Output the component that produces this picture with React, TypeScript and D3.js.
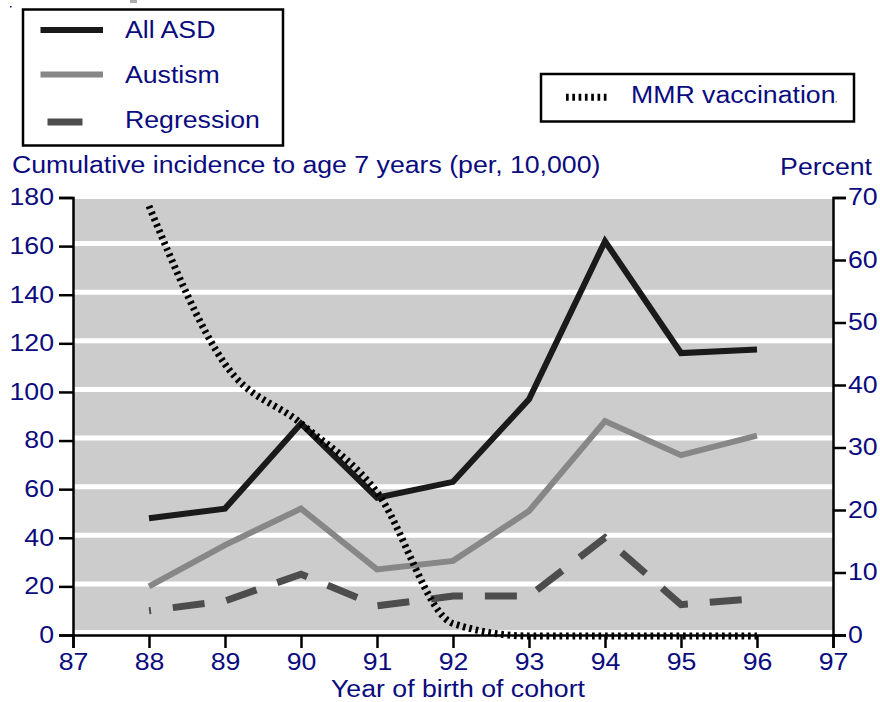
import React, { useEffect, useRef } from "react";
import * as d3 from "d3";

// ---- data ----
const years = [88, 89, 90, 91, 92, 93, 94, 95, 96];
const allASD = [48, 52, 87, 56.5, 63, 97, 162, 116, 117.5];
const autism = [20, 37, 52, 27, 30.5, 51, 88, 74, 82];
const regression = [10, 14, 25, 12, 16, 16, 40, 12.5, 15];
const mmrPercent = [68.8, 43.5, 34, 23, 2, 0, 0, 0, 0];
const xTickValues = [87, 88, 89, 90, 91, 92, 93, 94, 95, 96, 97];
const leftTickValues = [0, 20, 40, 60, 80, 100, 120, 140, 160, 180];
const rightTickValues = [0, 10, 20, 30, 40, 50, 60, 70];
const gridValues = [0, 20, 40, 60, 80, 100, 120, 140, 160];

const W = 880;
const H = 702;
const SX = 1.16;
const FONT = "'Liberation Sans', Arial, Helvetica, sans-serif";
const FS = 23;
const NAVY = "#0b0b80";

const x = d3.scaleLinear().domain([87, 97]).range([73, 833]);
const yL = d3.scaleLinear().domain([0, 180]).range([635, 197.5]);
const yR = d3.scaleLinear().domain([0, 70]).range([635, 197.5]);

type TP = { x: number; y: number; anchor?: string; children: React.ReactNode };
const T = ({ x, y, anchor = "start", children }: TP) => (
  <text
    transform={`translate(${x},${y}) scale(${SX},1)`}
    textAnchor={anchor as any}
    fontFamily={FONT}
    fontSize={FS}
    fill={NAVY}
  >
    {children}
  </text>
);

export default function App() {
  const leftRef = useRef<SVGGElement>(null);
  const rightRef = useRef<SVGGElement>(null);
  const bottomRef = useRef<SVGGElement>(null);

  useEffect(() => {
    const style = (g: d3.Selection<SVGGElement, unknown, null, undefined>) => {
      g.selectAll("path.domain").attr("stroke", "#000").attr("stroke-width", 2.5).attr("fill", "none");
      g.selectAll(".tick line").attr("stroke", "#000").attr("stroke-width", 2.5);
      g.selectAll(".tick text")
        .attr("fill", NAVY)
        .attr("font-family", FONT)
        .attr("font-size", FS)
        .each(function () {
          const el = this as SVGTextElement;
          const xv = +(el.getAttribute("x") || 0);
          el.setAttribute("x", String(xv / SX));
          el.setAttribute("transform", `scale(${SX},1)`);
        });
    };
    const left = d3.select(leftRef.current!);
    left.selectAll("*").remove();
    left.call(d3.axisLeft(yL).tickValues(leftTickValues).tickSize(14).tickPadding(5).tickFormat(d3.format("d")) as any);
    left.attr("font-family", null).attr("font-size", null);
    style(left as any);

    const right = d3.select(rightRef.current!);
    right.selectAll("*").remove();
    right.call(d3.axisRight(yR).tickValues(rightTickValues).tickSize(13).tickPadding(2).tickFormat(d3.format("d")) as any);
    right.attr("font-family", null).attr("font-size", null);
    style(right as any);

    const bottom = d3.select(bottomRef.current!);
    bottom.selectAll("*").remove();
    bottom.call(d3.axisBottom(x).tickValues(xTickValues).tickSize(13).tickPadding(5.5).tickFormat(d3.format("d")) as any);
    bottom.attr("font-family", null).attr("font-size", null);
    style(bottom as any);
  }, []);

  const lineL = d3
    .line<number>()
    .x((_, i) => x(years[i]))
    .y((d) => yL(d));
  const lineR = d3
    .line<number>()
    .x((_, i) => x(years[i]))
    .y((d) => yR(d))
    .curve(d3.curveMonotoneX);

  return (
    <svg width={W} height={H} style={{ position: "absolute", left: 0, top: 0, background: "#fff" }}>
      <rect x={0} y={0} width={W} height={H} fill="#fff" />
      {/* small artifacts */}
      <rect x={130} y={0} width={7} height={3} fill="#aaa" />
      <rect x={10} y={6} width={1.5} height={1.5} fill={NAVY} />

      {/* plot background */}
      <rect x={x(87)} y={yL(180) + 1.5} width={x(97) - x(87)} height={yL(0) - yL(180) - 3} fill="#cccccc" />
      {gridValues.map((v) => (
        <line key={v} x1={x(87)} x2={x(97)} y1={yL(v) - 2.5} y2={yL(v) - 2.5} stroke="#fff" strokeWidth={5} />
      ))}

      {/* series */}
      <path d={lineL(regression) || ""} fill="none" stroke="#4d4d4d" strokeWidth={7} strokeDasharray="32 22" strokeDashoffset={30} />
      <path d={lineL(autism) || ""} fill="none" stroke="#878787" strokeWidth={6} strokeLinejoin="miter" />
      <path d={lineL(allASD) || ""} fill="none" stroke="#1a1a1a" strokeWidth={6} strokeLinejoin="miter" />
      <path d={lineR(mmrPercent) || ""} fill="none" stroke="#000" strokeWidth={7} strokeDasharray="2.7 3.8" transform="translate(0,1)" />

      {/* axes */}
      <g ref={leftRef} transform={`translate(${x(87)},0)`} />
      <g ref={rightRef} transform={`translate(${x(97)},0)`} />
      <g ref={bottomRef} transform={`translate(0,${yL(0)})`} />

      {/* axis titles */}
      <T x={12} y={173}>Cumulative incidence to age 7 years (per, 10,000)</T>
      <T x={872} y={175} anchor="end">Percent</T>
      <T x={458} y={697} anchor="middle">Year of birth of cohort</T>

      {/* legend 1 */}
      <rect x={23} y={9.5} width={260} height={136} fill="#fff" stroke="#000" strokeWidth={2.5} />
      <line x1={40.5} x2={103} y1={30} y2={30} stroke="#1a1a1a" strokeWidth={6} />
      <T x={125} y={37.5}>All ASD</T>
      <line x1={40.5} x2={103} y1={74.5} y2={74.5} stroke="#878787" strokeWidth={6} />
      <T x={125} y={82.5}>Austism</T>
      <line x1={47.5} x2={82.5} y1={122} y2={122} stroke="#4d4d4d" strokeWidth={7} />
      <T x={125} y={127.5}>Regression</T>

      {/* legend 2 */}
      <rect x={541} y={74} width={313} height={47.5} fill="#fff" stroke="#000" strokeWidth={2.5} />
      <line x1={566} x2={610} y1={97.3} y2={97.3} stroke="#000" strokeWidth={7} strokeDasharray="2.7 3.6" />
      <T x={631} y={103}>MMR vaccination</T>
      <rect x={835.5} y={101} width={1.5} height={1.5} fill="#888" />
    </svg>
  );
}
